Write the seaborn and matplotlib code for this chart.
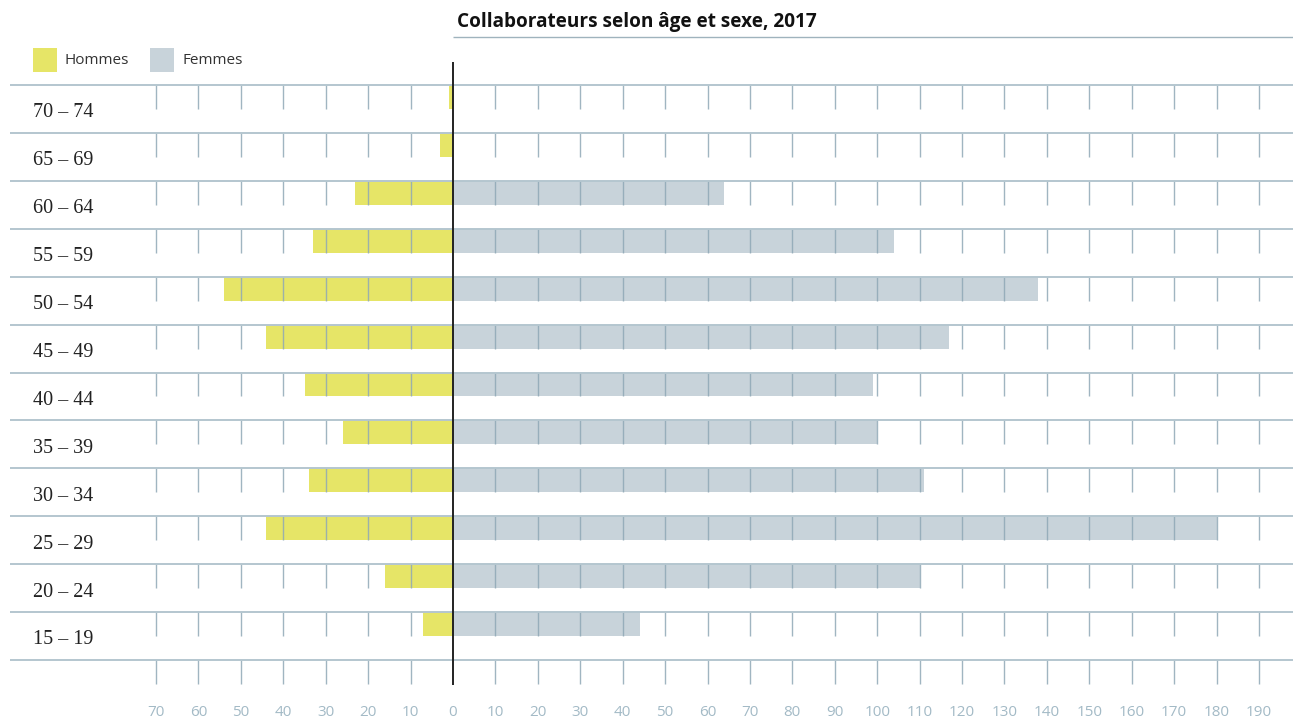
import matplotlib
matplotlib.use("Agg")
import matplotlib.pyplot as plt
from matplotlib.patches import Rectangle
import seaborn as sns
import pandas as pd

# ---- data ----
age_groups = ["70 – 74", "65 – 69", "60 – 64", "55 – 59", "50 – 54", "45 – 49",
              "40 – 44", "35 – 39", "30 – 34", "25 – 29", "20 – 24", "15 – 19"]
hommes = [1, 3, 23, 33, 54, 44, 35, 26, 34, 44, 16, 7]
femmes = [0, 0, 64, 104, 138, 117, 99, 100, 111, 180, 110, 44]
tick_values = list(range(-70, 200, 10))
tick_labels = [str(abs(v)) for v in tick_values]
title = "Collaborateurs selon âge et sexe, 2017"
legend_labels = ["Hommes", "Femmes"]

YELLOW = "#e6e567"
GREY = "#c8d3da"
GRID = "#b4c6cf"
TICK = "#8fa8b6"
TICKLABEL = "#a3bac6"

sns.set_theme(style="white")
plt.rcParams['font.family'] = ['Open Sans', 'DejaVu Sans']

W, H = 1293, 719
PX = 4.242          # pixels per unit
X0 = 453            # pixel of zero
fig = plt.figure(figsize=(W / 100, H / 100), dpi=100)
ax = fig.add_axes([0, 0, 1, 1])

df = pd.DataFrame({"age": age_groups,
                   "hommes": [-h for h in hommes],
                   "femmes": femmes})

sns.barplot(data=df, y="age", x="hommes", orient="h", color=YELLOW,
            saturation=1, width=0.5, linewidth=0, ax=ax, zorder=2)
sns.barplot(data=df, y="age", x="femmes", orient="h", color=GREY,
            saturation=1, width=0.5, linewidth=0, ax=ax, zorder=2)

n = len(age_groups)
xmin, xmax = -X0 / PX, (W - X0) / PX
ax.set_xlim(xmin, xmax)
ax.set_ylim(12.98, -2.024)
ax.axis("off")

line_start = (10 - X0) / PX

# horizontal band lines and short ticks
for i in range(n + 1):
    ax.hlines(i - 0.25, line_start, xmax, color=GRID, lw=1.4, zorder=4)
    ax.vlines([v for v in tick_values if v != 0], i - 0.25, i + 0.25,
              color=TICK, lw=1.0, alpha=0.85, zorder=3)

# zero line
ax.vlines(0, -0.73, 12.27, color="#222222", lw=1.4, zorder=6)

# row labels
for i, lab in enumerate(age_groups):
    ax.text((33 - X0) / PX, i + 0.33, lab, ha="left", va="center",
            family=["Liberation Serif", "DejaVu Serif"], fontsize=14.5, color="#222222")

# bottom tick labels
for v, lab in zip(tick_values, tick_labels):
    ax.text(v, 12.84, lab, ha="center", va="center", color=TICKLABEL, fontsize=11)

# title and underline
fig.text(457 / W, 1 - 22 / H, title, ha="left", va="center",
         fontsize=13.7, fontweight="bold", color="#111111")
ax.hlines(-1.25, 0, xmax, color="#9fb3bd", lw=1.0)

# legend
for (px, col, lab) in [(33, YELLOW, legend_labels[0]), (150, GREY, legend_labels[1])]:
    fig.patches.append(Rectangle((px / W, 1 - 72 / H), 24 / W, 24 / H,
                                 facecolor=col, edgecolor="none",
                                 transform=fig.transFigure, figure=fig))
    fig.text((px + 32) / W, 1 - 60 / H, lab, ha="left", va="center",
             fontsize=11, color="#333333")

fig.savefig("out.png", dpi=100)
